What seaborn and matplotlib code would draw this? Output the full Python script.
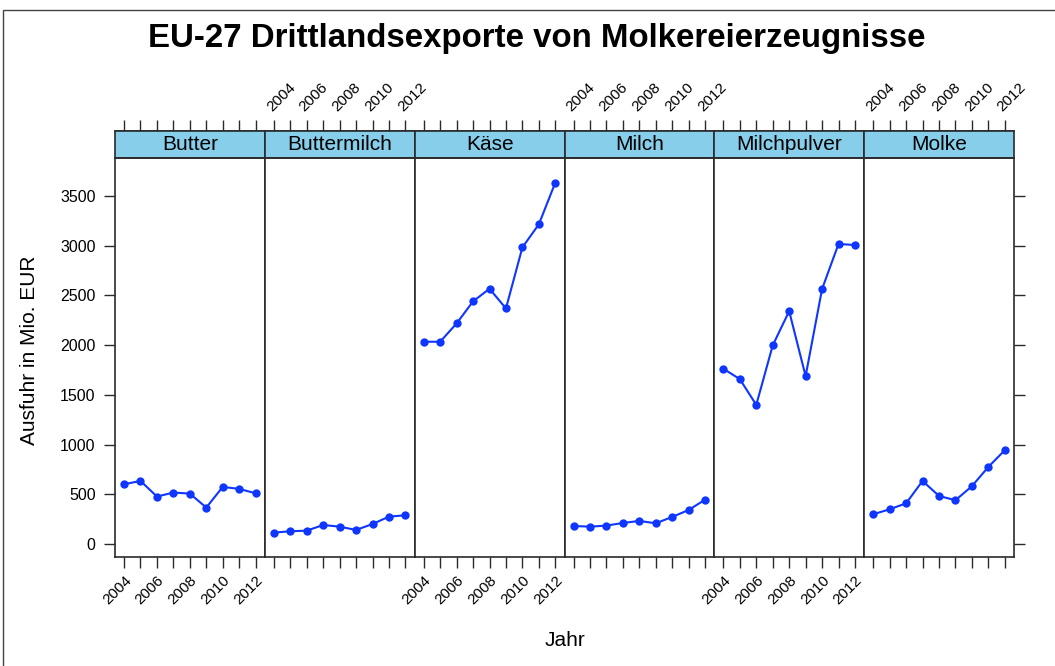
import numpy as np
import pandas as pd
import seaborn as sns
import matplotlib.pyplot as plt
from matplotlib.patches import Rectangle

# Werte (Mio. EUR)
jahre = list(range(2004, 2013))
produkte = ['Butter', 'Buttermilch', 'Käse', 'Milch', 'Milchpulver', 'Molke']
butter = [601, 634, 477, 517, 507, 366, 574, 554, 510]
buttermilch = [114, 128, 134, 191, 174, 141, 201, 275, 289]
kaese = [2034, 2034, 2218, 2440, 2567, 2369, 2983, 3215, 3634]
milch = [181, 174, 185, 211, 232, 208, 272, 342, 446]
milchpulver = [1762, 1658, 1399, 1997, 2342, 1688, 2564, 3017, 3007]
molke = [299, 349, 409, 634, 483, 440, 581, 775, 943]
y_ticks = [0, 500, 1000, 1500, 2000, 2500, 3000, 3500]
x_ticks = [2004, 2006, 2008, 2010, 2012]

werte = [butter, buttermilch, kaese, milch, milchpulver, molke]
df = pd.DataFrame({
    'Jahr': jahre * len(produkte),
    'Produkt': np.repeat(produkte, len(jahre)),
    'Ausfuhr': np.concatenate(werte),
})

sns.set_style('ticks')
plt.rcParams['font.family'] = ['Liberation Sans', 'DejaVu Sans']
plt.rcParams['text.color'] = 'black'
plt.rcParams['xtick.color'] = 'black'
plt.rcParams['ytick.color'] = 'black'

blau = '#0f36ff'
rahmen = '#2a2a2a'
strip_h = 27 / 399

g = sns.relplot(data=df, x='Jahr', y='Ausfuhr', col='Produkt', kind='line',
                marker='o', color=blau, linewidth=1.5, markersize=6,
                markeredgewidth=0, height=4, aspect=0.4,
                facet_kws={'sharex': False, 'sharey': True})
fig = g.figure
fig.set_size_inches(10.55, 6.66)
fig.subplots_adjust(left=115/1055, right=1014/1055, bottom=1-557/666,
                    top=1-158/666, wspace=0)
g.set_titles('')
g.set_axis_labels('', '')

for i, (ax, name) in enumerate(zip(g.axes.flat, produkte)):
    ax.set_xlim(2003.45, 2012.56)
    ax.set_ylim(-131, 3882)
    for sp in ax.spines.values():
        sp.set_visible(True)
        sp.set_color(rahmen)
        sp.set_linewidth(1.2)
    # Streifen oben
    ax.add_patch(Rectangle((0, 1), 1, strip_h, transform=ax.transAxes,
                           clip_on=False, facecolor='#87ceeb',
                           edgecolor=rahmen, linewidth=1.2))
    ax.text(0.5, 1 + strip_h / 2, name, transform=ax.transAxes,
            ha='center', va='center', fontsize=15)
    # x-Achse unten
    ax.set_xticks(jahre)
    if i % 2 == 0:
        ax.set_xticklabels([str(j) if j in x_ticks else '' for j in jahre],
                           rotation=45, ha='right', va='top',
                           rotation_mode='anchor')
    else:
        ax.set_xticklabels([])
    ax.tick_params(axis='x', bottom=True, labelbottom=True, direction='out',
                   length=8, width=1, color=rahmen, labelsize=11, pad=4)
    # x-Achse oben über dem Streifen
    sec = ax.secondary_xaxis(1 + strip_h)
    sec.set_xticks(jahre)
    if i % 2 == 1:
        sec.set_xticklabels([str(j) if j in x_ticks else '' for j in jahre],
                            rotation=45, ha='left', va='bottom',
                            rotation_mode='anchor')
    else:
        sec.set_xticklabels([])
    sec.tick_params(axis='x', direction='out', length=8, width=1,
                    color=rahmen, labelsize=11, pad=4)
    sec.spines['top'].set_color(rahmen)
    sec.spines['top'].set_linewidth(1.2)
    # y-Achse
    ax.set_yticks(y_ticks)
    if i == 0:
        ax.tick_params(axis='y', left=True, right=False, labelleft=True,
                       direction='out', length=8, width=1, color=rahmen,
                       labelsize=11.5, pad=6)
    elif i == len(produkte) - 1:
        ax.tick_params(axis='y', left=False, right=True, labelleft=False,
                       labelright=False, direction='out', length=8, width=1,
                       color=rahmen)
    else:
        ax.tick_params(axis='y', left=False, right=False, labelleft=False)

fig.text(537 / 1055, 1 - 38 / 666,
         'EU-27 Drittlandsexporte von Molkereierzeugnisse',
         ha='center', va='center', fontsize=23.8, fontweight='bold')
fig.text(30 / 1055, 1 - 350 / 666, 'Ausfuhr in Mio. EUR', rotation=90,
         ha='center', va='center', fontsize=15)
fig.text(565 / 1055, 1 - 640 / 666, 'Jahr', ha='center', va='center',
         fontsize=15)

# Rahmen um die Abbildung
fig.patches.append(Rectangle((3 / 1055, -0.1), 1.2, 0.1 + 1 - 10 / 666,
                             transform=fig.transFigure, fill=False,
                             edgecolor='#444444', linewidth=1))

fig.savefig('out.png', dpi=100)
